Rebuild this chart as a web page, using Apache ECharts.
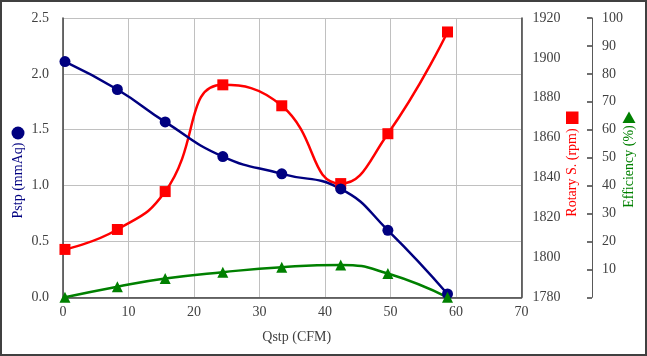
<!DOCTYPE html>
<html><head><meta charset="utf-8">
<script src="https://cdn.jsdelivr.net/npm/echarts@6/dist/echarts.min.js"></script>
<style>html,body{margin:0;padding:0;background:#fff}#c{width:647px;height:356px}</style>
</head><body><div id="c"></div>
<script>
var qstp = [0.3, 8.3, 15.6, 24.4, 33.4, 42.4, 49.6, 58.7];
var pstp = [2.11, 1.86, 1.57, 1.26, 1.105, 0.97, 0.60, 0.03];
var rpm = [1804, 1814, 1833, 1886.5, 1876, 1837, 1862, 1913];
var eff = [0, 3.8, 6.7, 9.0, 10.8, 11.6, 8.5, 0];

function pairs(xs, ys){ return xs.map(function(x,i){return [x, ys[i]];}); }

var FONT = '"Liberation Serif", "Times New Roman", serif';
var TXT = '#404040';
var chart = echarts.init(document.getElementById('c'));
chart.setOption({
  animation: false,
  grid: {left: 63, right: 125.5, top: 18, bottom: 58.7, containLabel: false},
  xAxis: {
    type: 'value', min: 0, max: 70, interval: 10,
    axisLine: {show: true, lineStyle: {color: '#404040', width: 1.5}},
    axisTick: {show: false},
    axisLabel: {color: TXT, fontFamily: FONT, fontSize: 14, margin: 8},
    splitLine: {show: true, lineStyle: {color: '#c0c0c0', width: 1}}
  },
  yAxis: [{
    type: 'value', min: 0, max: 2.5, interval: 0.5, position: 'left',
    axisLine: {show: true, lineStyle: {color: '#404040', width: 1.5}},
    axisTick: {show: false},
    axisLabel: {color: TXT, fontFamily: FONT, fontSize: 14, margin: 14,
      formatter: function(v){return v.toFixed(1);}},
    splitLine: {show: true, lineStyle: {color: '#c0c0c0', width: 1}}
  }, {
    type: 'value', min: 1780, max: 1920, interval: 20, position: 'right',
    axisLine: {show: true, lineStyle: {color: '#404040', width: 1.5}},
    axisTick: {show: false},
    axisLabel: {color: TXT, fontFamily: FONT, fontSize: 14, margin: 11,
      formatter: function(v){return String(v);}},
    splitLine: {show: false}
  }, {
    type: 'value', min: 0, max: 100, interval: 10, position: 'right', offset: 70.5,
    axisLine: {show: true, lineStyle: {color: '#595959', width: 1}},
    axisTick: {show: true, inside: true, length: 5, lineStyle: {color: '#404040', width: 1.5}},
    axisLabel: {color: TXT, fontFamily: FONT, fontSize: 14, margin: 10,
      formatter: function(v){return v === 0 ? '' : String(v);}},
    splitLine: {show: false}
  }],
  series: [{
    name: 'Rotary S.', type: 'line', yAxisIndex: 1, smooth: 0.5,
    data: pairs(qstp, rpm), symbol: 'rect', symbolSize: 11,
    lineStyle: {color: '#ff0000', width: 2.5}, itemStyle: {color: '#ff0000'}
  }, {
    name: 'Pstp', type: 'line', yAxisIndex: 0, smooth: 0.5,
    data: pairs(qstp, pstp), symbol: 'circle', symbolSize: 11,
    lineStyle: {color: '#000080', width: 2.5}, itemStyle: {color: '#000080'}
  }, {
    name: 'Efficiency', type: 'line', yAxisIndex: 2, smooth: 0.5,
    data: pairs(qstp, eff), symbol: 'triangle', symbolSize: 11,
    lineStyle: {color: '#008000', width: 2.5}, itemStyle: {color: '#008000'}
  }],
  graphic: [
    {type: 'rect', shape: {x: 1, y: 1, width: 645, height: 354}, style: {fill: 'none', stroke: '#404040', lineWidth: 2}, silent: true},
    {type: 'text', x: 296.7, y: 337, style: {text: 'Qstp (CFM)', fill: TXT, font: '14px ' + FONT, align: 'center', verticalAlign: 'middle'}},
    {type: 'text', x: 18, y: 180.5, rotation: Math.PI/2, style: {text: 'Pstp (mmAq)', fill: '#000080', font: '14px ' + FONT, align: 'center', verticalAlign: 'middle'}},
    {type: 'circle', shape: {cx: 18, cy: 133, r: 6.5}, style: {fill: '#000080'}},
    {type: 'text', x: 572.3, y: 172.5, rotation: Math.PI/2, style: {text: 'Rotary S. (rpm)', fill: '#ff0000', font: '14px ' + FONT, align: 'center', verticalAlign: 'middle'}},
    {type: 'rect', shape: {x: 566, y: 111.5, width: 12.5, height: 12.5}, style: {fill: '#ff0000'}},
    {type: 'text', x: 629, y: 166.5, rotation: Math.PI/2, style: {text: 'Efficiency (%)', fill: '#008000', font: '14px ' + FONT, align: 'center', verticalAlign: 'middle'}},
    {type: 'polygon', shape: {points: [[622.5, 123], [635.5, 123], [629, 111.5]]}, style: {fill: '#008000'}}
  ]
});
</script></body></html>
